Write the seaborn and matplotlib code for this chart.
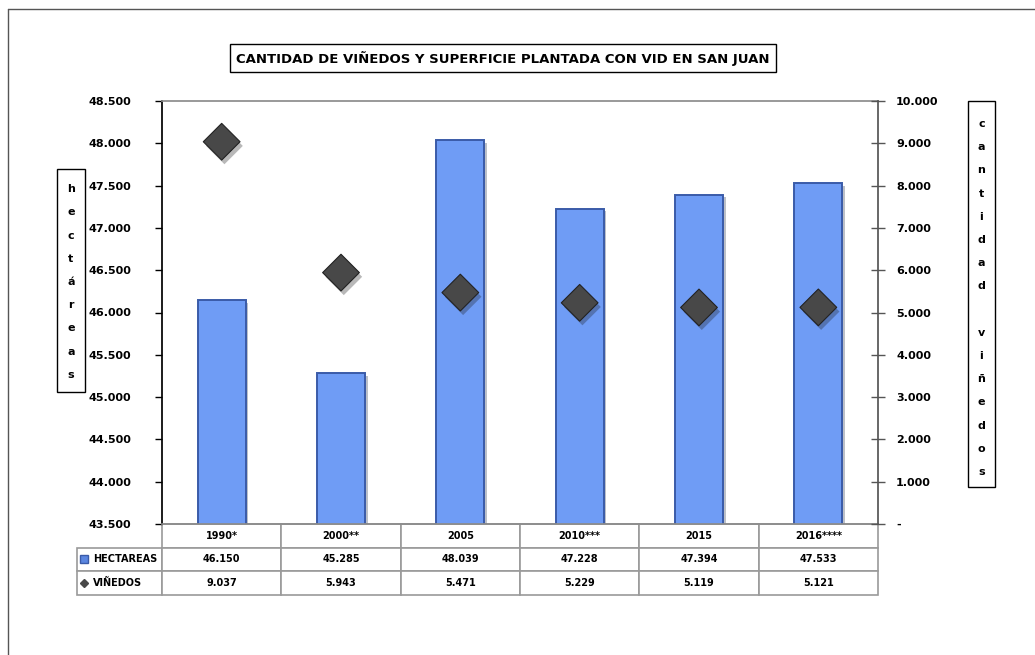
import matplotlib
matplotlib.use('Agg')
import matplotlib.pyplot as plt
import matplotlib.patheffects as pe
from matplotlib.lines import Line2D
from matplotlib.patches import Rectangle
from matplotlib.ticker import FuncFormatter
import seaborn as sns
import pandas as pd

# data
years = ['1990*', '2000**', '2005', '2010***', '2015', '2016****']
hectareas = [46150, 45285, 48039, 47228, 47394, 47533]
vinedos = [9037, 5943, 5471, 5229, 5119, 5121]

title = 'CANTIDAD DE VIÑEDOS Y SUPERFICIE PLANTADA CON VID EN SAN JUAN'


def fmt(v):
    """Spanish thousands separator, '-' for zero."""
    if v == 0:
        return '-'
    return f'{v:,.0f}'.replace(',', '.')


sns.set_theme(style='white')
plt.rcParams['font.family'] = ['DejaVu Sans']
plt.rcParams['font.weight'] = 'bold'
plt.rcParams['text.color'] = 'black'
plt.rcParams['xtick.labelcolor'] = 'black'
plt.rcParams['ytick.labelcolor'] = 'black'

df = pd.DataFrame({'anio': years, 'hectareas': hectareas, 'vinedos': vinedos})

fig = plt.figure(figsize=(10.35, 6.55), dpi=100)
ax = fig.add_axes([162 / 1035, 1 - 524 / 655, 716 / 1035, 423 / 655])

shadow = [pe.SimplePatchShadow(offset=(2, -2), alpha=0.3), pe.Normal()]

sns.barplot(data=df, x='anio', y='hectareas', ax=ax, color='#6f9cf5',
            width=0.4, edgecolor='#3a5ba8', linewidth=1.4, saturation=1)
for bar in ax.patches:
    bar.set_path_effects(shadow)

ax.set_ylim(43500, 48500)
ax.set_yticks(range(43500, 48501, 500))
ax.yaxis.set_major_formatter(FuncFormatter(lambda v, p: fmt(v)))
ax.set_xlim(-0.5, 5.5)
ax.set_xlabel('')
ax.set_ylabel('')
ax.set_xticks([])
ax.tick_params(axis='y', left=True, direction='out', length=5, width=1,
               color='black', pad=17, labelsize=8)

for side in ['top', 'bottom']:
    ax.spines[side].set_color('#8c8c8c')
ax.spines['left'].set_color('black')
ax.spines['right'].set_visible(False)

ax2 = ax.twinx()
sns.scatterplot(data=df, x='anio', y='vinedos', ax=ax2, marker='D', s=350,
                color='#484848', edgecolor='#222222', linewidth=0.8, zorder=3)
ax2.collections[0].set_path_effects([pe.SimplePatchShadow(offset=(2, -3), alpha=0.3),
                                     pe.Normal()])
ax2.set_ylim(0, 10000)
ax2.set_yticks(range(0, 10001, 1000))
ax2.yaxis.set_major_formatter(FuncFormatter(lambda v, p: fmt(v)))
ax2.set_ylabel('')
ax2.set_xlabel('')
ax2.tick_params(axis='y', right=True, direction='inout', length=10, width=1,
                color='#555555', pad=8, labelsize=8)
for side in ['top', 'bottom', 'left']:
    ax2.spines[side].set_visible(False)
ax2.spines['right'].set_color('#555555')

# data table under the plot
cell_text = [[''] + years,
             ['HECTAREAS'] + [fmt(v) for v in hectareas],
             ['VIÑEDOS'] + [fmt(v) for v in vinedos]]
tbl = ax.table(cellText=cell_text, cellLoc='center',
               colWidths=[85] + [119.3] * 6,
               bbox=[-85 / 716, -71 / 423, 801 / 716, 71 / 423])
tbl.auto_set_font_size(False)
tbl.set_fontsize(7)
for (r, c), cell in tbl.get_celld().items():
    cell.set_edgecolor('#9a9a9a')
    cell.set_linewidth(1.2)
    cell.get_text().set_fontweight('bold')
    cell.get_text().set_color('black')
    if c == 0:
        cell._loc = 'left'
        cell.PAD = 0.19
        cell.get_text().set_horizontalalignment('left')
tbl[0, 0].visible_edges = 'open'

# legend keys in the table
fig.add_artist(Line2D([84 / 1035], [1 - 559 / 655], marker='s', ms=6,
                      color='#5b86e0', mec='#3a5ba8', lw=0))
fig.add_artist(Line2D([84 / 1035], [1 - 583 / 655], marker='D', ms=4.5,
                      color='#484848', lw=0))

# title box
fig.text(503 / 1035, 1 - 58 / 655, title, ha='center', va='center',
         fontsize=9.5, fontweight='bold',
         bbox=dict(boxstyle='square,pad=0.5', fc='white', ec='black', lw=1))

# vertical axis title boxes
fig.add_artist(Rectangle((57 / 1035, 1 - 392 / 655), 28 / 1035, 223 / 655,
                         transform=fig.transFigure, fill=False, ec='black', lw=1))
fig.text(71 / 1035, 1 - 282 / 655, '\n'.join('hectáreas'), ha='center',
         va='center', fontsize=8, fontweight='bold', linespacing=2.65)
fig.add_artist(Rectangle((968 / 1035, 1 - 487 / 655), 27 / 1035, 386 / 655,
                         transform=fig.transFigure, fill=False, ec='black', lw=1))
fig.text(981.5 / 1035, 1 - 298 / 655, '\n'.join('cantidad viñedos'), ha='center',
         va='center', fontsize=8, fontweight='bold', linespacing=2.65)

# outer frame
fig.add_artist(Line2D([8 / 1035, 8 / 1035], [0, 1 - 9 / 655], color='#555555', lw=1))
fig.add_artist(Line2D([8 / 1035, 1], [1 - 9 / 655, 1 - 9 / 655], color='#555555', lw=1))

fig.savefig('out.png', dpi=100)
